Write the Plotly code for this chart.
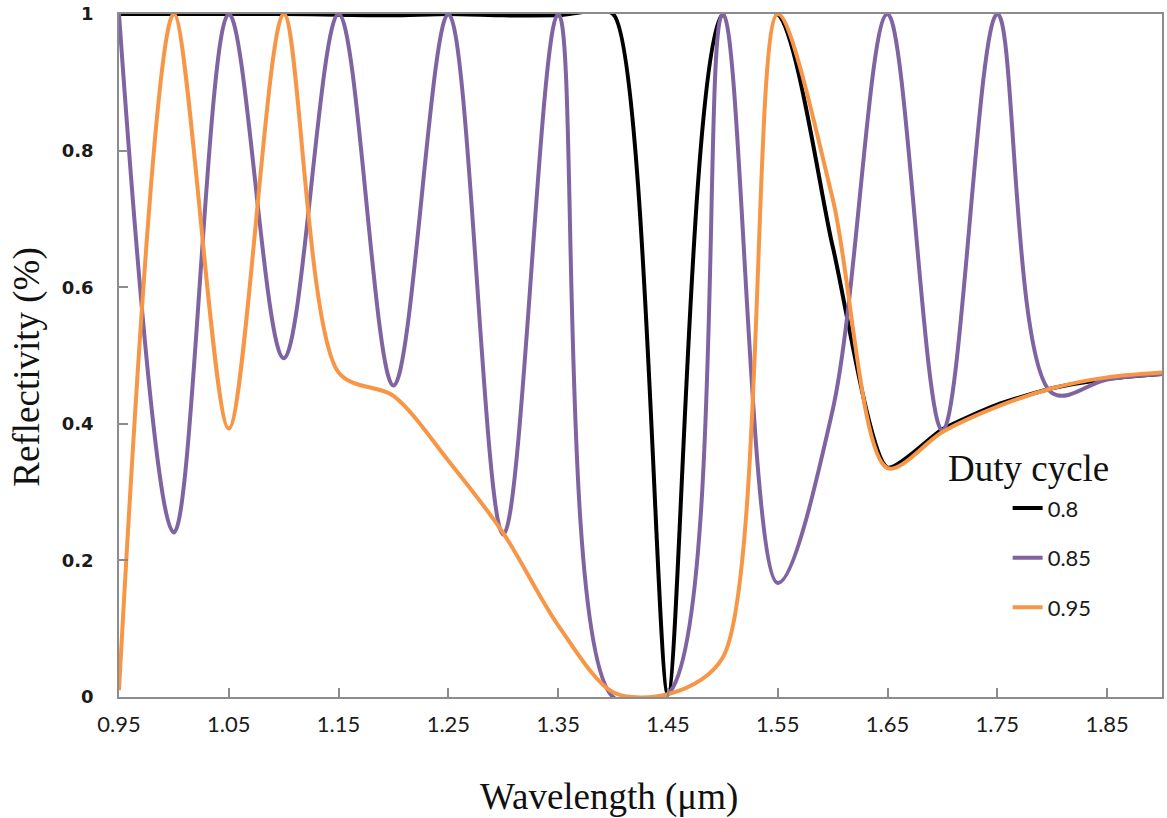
import plotly.graph_objects as go

wavelength = [0.95, 1.00, 1.05, 1.10, 1.15, 1.20, 1.25, 1.30, 1.35, 1.40,
              1.45, 1.50, 1.55, 1.60, 1.65, 1.70, 1.75, 1.80, 1.85, 1.90]

duty_080 = [1.0, 1.0, 1.0, 1.0, 0.999, 0.998, 1.0, 0.998, 0.998, 1.0,
            0.004, 1.0, 1.0, 0.66, 0.336, 0.392, 0.428, 0.452, 0.466, 0.473]

duty_085 = [1.0, 0.241, 1.0, 0.496, 1.0, 0.456, 1.0, 0.238, 1.0, 0.0,
            0.004, 1.0, 0.167, 0.42, 1.0, 0.39, 1.0, 0.445, 0.465, 0.473]

duty_095 = [0.01, 1.0, 0.393, 1.0, 0.475, 0.441, 0.346, 0.24, 0.105, 0.007,
            0.004, 0.058, 1.0, 0.73, 0.335, 0.388, 0.425, 0.452, 0.468, 0.475]

series_names = ["0.8", "0.85", "0.95"]
series_values = [duty_080, duty_085, duty_095]
series_colors = ["#000000", "#8064A2", "#F79646"]
series_smoothing = [0.6, 1.0, 0.85]

x_tickvals = [0.95, 1.05, 1.15, 1.25, 1.35, 1.45, 1.55, 1.65, 1.75, 1.85]
x_ticktext = ["0.95", "1.05", "1.15", "1.25", "1.35", "1.45", "1.55", "1.65", "1.75", "1.85"]
y_tickvals = [0, 0.2, 0.4, 0.6, 0.8, 1]
y_ticktext = ["0", "0.2", "0.4", "0.6", "0.8", "1"]

fig = go.Figure()
for name, vals, col, sm in zip(series_names, series_values, series_colors, series_smoothing):
    fig.add_trace(go.Scatter(
        x=wavelength, y=vals, name=name, mode="lines",
        line=dict(color=col, width=4, shape="spline", smoothing=sm),
        legendgroup=name,
    ))

fig.update_layout(
    width=1167, height=818,
    margin=dict(l=119, r=3, t=13, b=121),
    paper_bgcolor="white", plot_bgcolor="white",
    showlegend=True,
    legend=dict(
        font=dict(family="Lato", size=22, color="#1a1a1a"),
        x=0.852, y=0.307, xanchor="left", yanchor="top",
        bgcolor="rgba(0,0,0,0)", tracegroupgap=18,
    ),
    annotations=[
        dict(text="Duty cycle", xref="paper", yref="paper",
             x=0.8718, y=0.3348, xanchor="center", yanchor="middle", showarrow=False,
             font=dict(family="Liberation Serif", size=37, color="#111111")),
        dict(text="Wavelength (μm)", xref="paper", yref="paper",
             x=(610 - 119) / 1045, y=-(797 - 697) / 684, xanchor="center", yanchor="middle",
             showarrow=False,
             font=dict(family="Liberation Serif", size=37, color="#111111")),
        dict(text="Reflectivity (%)", xref="paper", yref="paper", textangle=-90,
             x=-(119 - 27) / 1045, y=(697 - 367) / 684, xanchor="center", yanchor="middle",
             showarrow=False,
             font=dict(family="Liberation Serif", size=37, color="#111111")),
    ],
)

fig.update_xaxes(
    range=[0.95, 1.90], tickmode="array", tickvals=x_tickvals, ticktext=x_ticktext,
    ticks="inside", ticklen=9, tickcolor="#8c8c8c", tickwidth=1.5,
    showline=True, linecolor="#8c8c8c", linewidth=1.5, mirror=True,
    showgrid=False, zeroline=False,
    tickfont=dict(family="Lato", size=22, color="#1a1a1a"),
    ticklabelstandoff=7,
)
fig.update_yaxes(
    range=[0, 1], tickmode="array", tickvals=y_tickvals, ticktext=y_ticktext,
    ticks="inside", ticklen=9, tickcolor="#8c8c8c", tickwidth=1.5,
    showline=True, linecolor="#8c8c8c", linewidth=1.5, mirror=True,
    showgrid=False, zeroline=False,
    tickfont=dict(family="DejaVu Sans", size=18, color="#1a1a1a", weight="bold"),
    ticklabelstandoff=20,
)

fig.write_html("out.html")
